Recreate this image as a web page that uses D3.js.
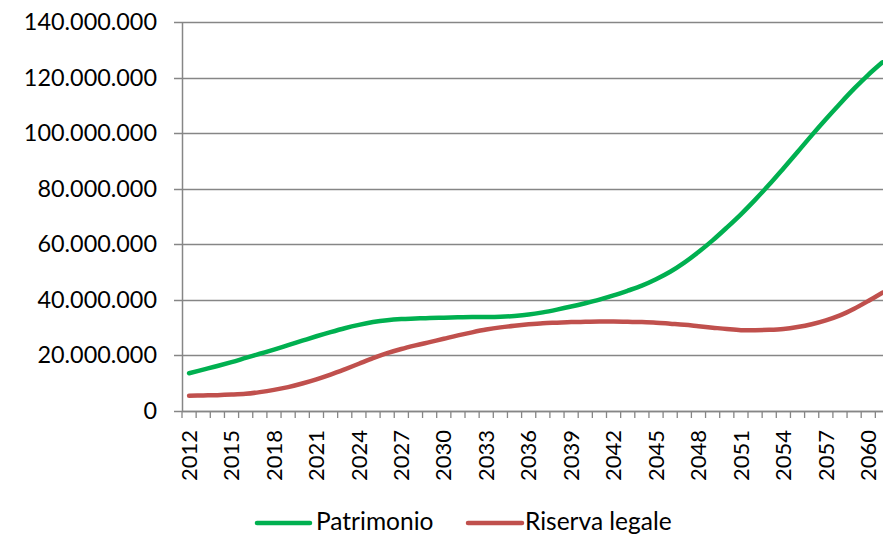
<!DOCTYPE html>
<html>
<head>
<meta charset="utf-8">
<script src="https://cdn.jsdelivr.net/npm/d3@7"></script>
<style>
  html, body { margin: 0; padding: 0; background: #fff; overflow: hidden; }
  svg { display: block; font-family: Lato, "Open Sans", sans-serif; }
</style>
</head>
<body>
<svg id="chart" width="883" height="534"></svg>
<script>
// ---- data ----
const years = d3.range(2012, 2062);
const seriesNames = ["Patrimonio", "Riserva legale"];
const patrimonio = [
  13.6, 14.9, 16.2, 17.6, 19.1, 20.6, 22.1, 23.7, 25.3, 26.9,
  28.4, 29.8, 31.0, 32.0, 32.7, 33.1, 33.3, 33.5, 33.6, 33.7,
  33.8, 33.8, 33.9, 34.2, 34.7, 35.5, 36.5, 37.6, 38.8, 40.1,
  41.6, 43.3, 45.1, 47.4, 50.1, 53.4, 57.2, 61.4, 66.0, 70.8,
  76.0, 81.5, 87.3, 93.2, 99.2, 105.0, 110.6, 116.0, 121.0, 125.5
].map(v => v * 1e6);
const riserva = [
  5.5, 5.6, 5.7, 5.9, 6.2, 6.8, 7.6, 8.6, 9.9, 11.4,
  13.1, 15.0, 17.0, 19.0, 20.8, 22.3, 23.6, 24.8, 26.0, 27.2,
  28.3, 29.3, 30.1, 30.7, 31.2, 31.6, 31.8, 32.0, 32.1, 32.2,
  32.2, 32.1, 32.0, 31.8, 31.4, 31.0, 30.5, 30.0, 29.5, 29.1,
  29.1, 29.2, 29.5, 30.2, 31.2, 32.6, 34.4, 36.8, 39.6, 42.6
].map(v => v * 1e6);
const yTicks = [0, 20e6, 40e6, 60e6, 80e6, 100e6, 120e6, 140e6];
const xLabelYears = d3.range(2012, 2062, 3);
const colors = ["#00B050", "#C0504D"];

(function () {
// ---- layout ----
const svg = d3.select("#chart");
const mLeft = 182, mTop = 22, mBottom = 411;
const band = 14.15;
const mRight = mLeft + band * years.length;

const x = d3.scaleBand().domain(years).range([mLeft, mRight]).paddingInner(0).paddingOuter(0);
const y = d3.scaleLinear().domain([0, 140e6]).range([mBottom, mTop]);

const locale = d3.formatLocale({ decimal: ",", thousands: ".", grouping: [3], currency: ["", ""] });
const fmt = locale.format(",d");

const gridColor = "#868686";

// gridlines
svg.append("g").selectAll("line").data(yTicks).join("line")
  .attr("x1", mLeft - 8).attr("x2", mRight)
  .attr("y1", d => Math.round(y(d)) + 0.5).attr("y2", d => Math.round(y(d)) + 0.5)
  .attr("stroke", gridColor).attr("stroke-width", 1.3);

// y axis
const yAxis = d3.axisLeft(y).tickValues(yTicks).tickFormat(fmt).tickSize(0).tickPadding(25);
const gy = svg.append("g").attr("transform", `translate(${mLeft},0)`).call(yAxis);
gy.select(".domain").attr("stroke", gridColor).attr("stroke-width", 1.5);
gy.selectAll("text").attr("font-size", 23.4).attr("fill", "#000").attr("font-family", "Lato, sans-serif");

// x axis: ticks at band boundaries
const gx = svg.append("g").attr("transform", `translate(0,${mBottom})`);
gx.append("line").attr("x1", mLeft).attr("x2", mRight).attr("y1", 0.5).attr("y2", 0.5)
  .attr("stroke", gridColor).attr("stroke-width", 1.5);
gx.selectAll("line.tick").data(years.concat([years[years.length - 1] + 1])).join("line")
  .attr("class", "tick")
  .attr("x1", (d, i) => mLeft + i * x.bandwidth()).attr("x2", (d, i) => mLeft + i * x.bandwidth())
  .attr("y1", 0).attr("y2", 7)
  .attr("stroke", gridColor).attr("stroke-width", 1.3);
gx.selectAll("text").data(xLabelYears).join("text")
  .attr("transform", d => `translate(${x(d) + x.bandwidth() / 2},19) rotate(-90)`)
  .attr("text-anchor", "end").attr("dy", "0.35em")
  .attr("font-size", 22).attr("fill", "#000")
  .text(d => d);

// lines
const line = d3.line()
  .x((d, i) => x(years[i]) + x.bandwidth() / 2)
  .y(d => y(d))
  .curve(d3.curveCatmullRom.alpha(0.5));

[patrimonio, riserva].forEach((s, k) => {
  svg.append("path").datum(s)
    .attr("d", line)
    .attr("fill", "none")
    .attr("stroke", colors[k])
    .attr("stroke-width", 4.5)
    .attr("stroke-linecap", "round")
    .attr("stroke-linejoin", "round");
});

// legend
const legendItems = [
  { x1: 257, x2: 310, tx: 316 },
  { x1: 468, x2: 522, tx: 525 }
];
const lg = svg.append("g");
legendItems.forEach((p, k) => {
  lg.append("line").attr("x1", p.x1).attr("x2", p.x2).attr("y1", 523).attr("y2", 523)
    .attr("stroke", colors[k]).attr("stroke-width", 4.5).attr("stroke-linecap", "round");
  lg.append("text").attr("x", p.tx).attr("y", 530)
    .attr("font-size", 24.5).attr("fill", "#000").text(seriesNames[k]);
});
})();
</script>
</body>
</html>
